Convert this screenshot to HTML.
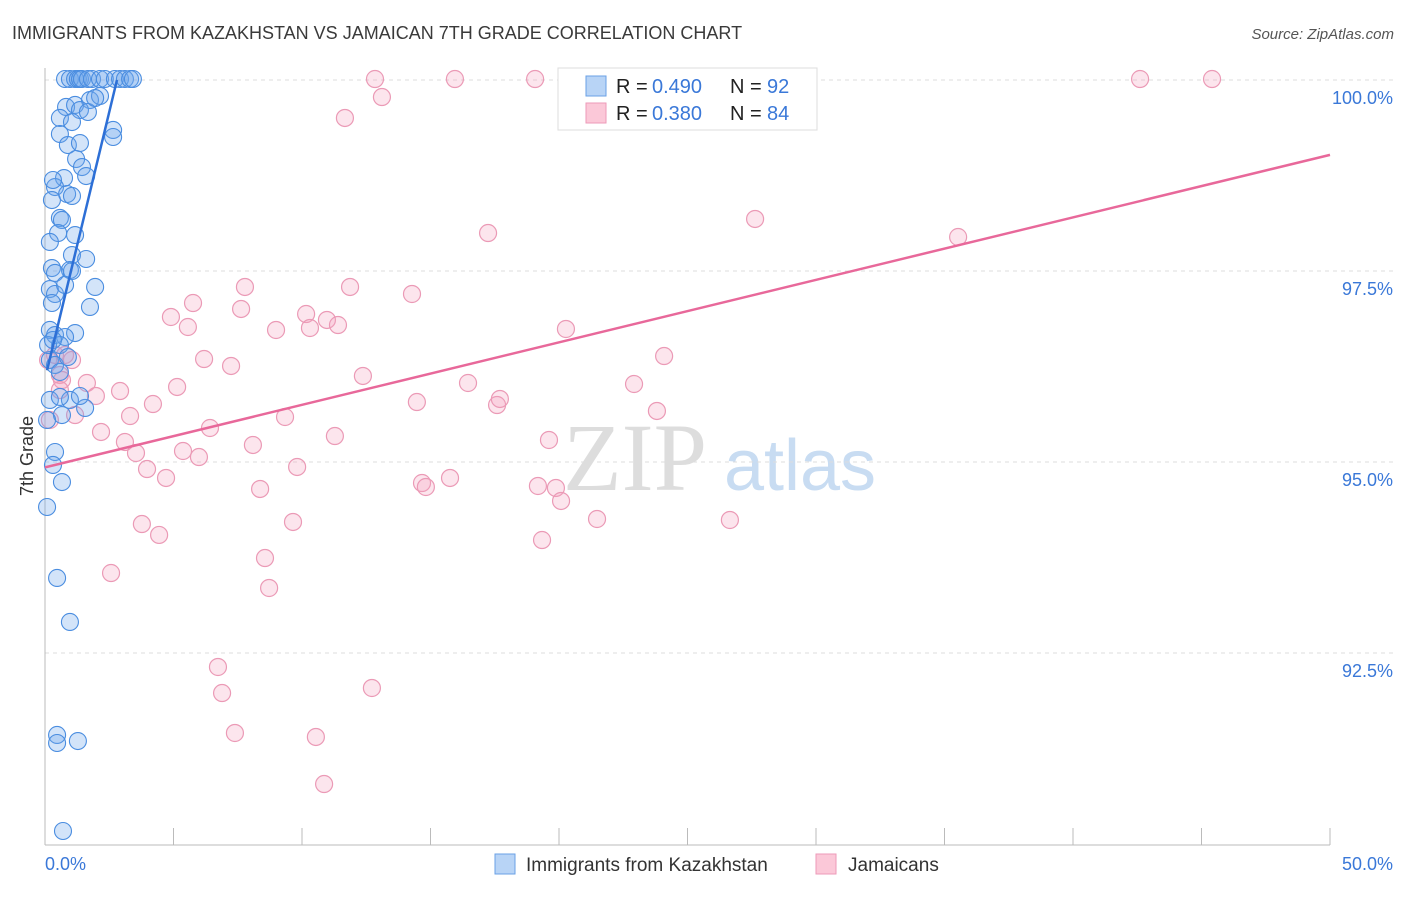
<!DOCTYPE html>
<html><head><meta charset="utf-8"><style>
body{margin:0;background:#fff;width:1406px;height:892px;overflow:hidden;font-family:"Liberation Sans",sans-serif}
</style></head><body>
<svg width="1406" height="892" xmlns="http://www.w3.org/2000/svg" font-family="Liberation Sans, sans-serif">
<text x="12" y="39" font-size="18" fill="#3a3a3a">IMMIGRANTS FROM KAZAKHSTAN VS JAMAICAN 7TH GRADE CORRELATION CHART</text>
<text x="1394" y="39" font-size="15" fill="#555" text-anchor="end" font-style="italic">Source: ZipAtlas.com</text>
<g>
<text x="635" y="490" font-size="96" fill="#ddd" text-anchor="middle" font-family="Liberation Serif, serif">ZIP</text>
<text x="800" y="490" font-size="72" fill="#c8dcf2" text-anchor="middle">atlas</text>
</g>
<g id="grid"></g>
<g id="axes"></g>
<g id="pts"></g>
<g id="lines"></g>
<text transform="translate(33,456) rotate(-90)" font-size="18" fill="#333" text-anchor="middle">7th Grade</text>
<g>
<rect x="558" y="68" width="259" height="62" fill="#fff" stroke="#ddd"/>
<rect x="586" y="76" width="20" height="20" fill="#b8d4f6" stroke="#6aa0e6"/>
<rect x="586" y="103" width="20" height="20" fill="#fbc8d8" stroke="#ee9ab8"/>
<text x="616" y="93" font-size="20" fill="#222">R =</text>
<text x="652" y="93" font-size="20" fill="#3a78d8">0.490</text>
<text x="730" y="93" font-size="20" fill="#222">N =</text>
<text x="767" y="93" font-size="20" fill="#3a78d8">92</text>
<text x="616" y="120" font-size="20" fill="#222">R =</text>
<text x="652" y="120" font-size="20" fill="#3a78d8">0.380</text>
<text x="730" y="120" font-size="20" fill="#222">N =</text>
<text x="767" y="120" font-size="20" fill="#3a78d8">84</text>
</g>
<g>
<rect x="495" y="854" width="20" height="20" fill="#b8d4f6" stroke="#6aa0e6"/>
<text x="526" y="871" font-size="19" fill="#333">Immigrants from Kazakhstan</text>
<rect x="816" y="854" width="20" height="20" fill="#fbc8d8" stroke="#ee9ab8"/>
<text x="848" y="871" font-size="19" fill="#333">Jamaicans</text>
</g>
</svg>
<script>
const NS="http://www.w3.org/2000/svg";
const yTicks=[100,97.5,95,92.5];
const yTickLabels=["100.0%","97.5%","95.0%","92.5%"];
const xTickLabels=["0.0%","50.0%"];
const bluePx=[[65,79],[70,79],[75,79],[78,79],[80,79],[82,79],[88,79],[92,79],[100,79],[105,79],[115,79],[120,79],[125,79],[130,79],[133,79],[66,107],[75,105],[90,100],[100,96],[80,110],[60,118],[72,122],[88,112],[113,130],[113,137],[60,134],[68,145],[80,143],[76,159],[82,167],[86,176],[64,178],[55,187],[67,194],[52,200],[60,218],[62,220],[58,233],[75,235],[50,242],[72,255],[86,259],[70,270],[52,268],[55,273],[72,271],[50,289],[55,294],[65,285],[95,287],[52,303],[90,307],[50,330],[55,335],[75,333],[65,337],[60,345],[50,360],[55,365],[60,372],[50,400],[70,400],[85,408],[62,415],[47,420],[55,452],[53,465],[62,482],[47,507],[57,578],[70,622],[57,735],[57,743],[78,741],[63,831],[60,397],[48,345],[53,340],[80,396],[68,357],[95,98],[53,180],[72,196]];
const pinkPx=[[375,79],[455,79],[535,79],[727,79],[1140,79],[1212,79],[382,97],[345,118],[488,233],[755,219],[958,237],[245,287],[350,287],[193,303],[412,294],[171,317],[241,309],[306,314],[276,330],[188,327],[327,320],[338,325],[310,328],[566,329],[204,359],[231,366],[363,376],[468,383],[634,384],[664,356],[177,387],[87,383],[120,391],[96,396],[153,404],[417,402],[497,405],[500,399],[130,416],[285,417],[657,411],[101,432],[125,442],[210,428],[335,436],[549,440],[136,453],[183,451],[199,457],[253,445],[147,469],[166,478],[297,467],[260,489],[422,483],[426,487],[450,478],[538,486],[556,488],[561,501],[142,524],[159,535],[293,522],[597,519],[730,520],[542,540],[265,558],[111,573],[269,588],[218,667],[222,693],[372,688],[235,733],[316,737],[324,784],[48,360],[55,355],[65,355],[72,360],[60,375],[75,415],[50,420],[62,380],[60,390]];
const blueX=bluePx.map(p=>+((p[0]-45)/25.7).toFixed(2));
const blueY=bluePx.map(p=>+(100-(p[1]-80)/76.4).toFixed(3));
const pinkX=pinkPx.map(p=>+((p[0]-45)/25.7).toFixed(2));
const pinkY=pinkPx.map(p=>+(100-(p[1]-80)/76.4).toFixed(3));
const blueTrend=[[0.08,96.2],[2.8,100]];
const pinkTrend=[[0,94.93],[50,99.02]];
const xs=v=>45+v*25.7, ys=v=>80+(100-v)*76.4;
function el(t,a,p){const e=document.createElementNS(NS,t);for(const k in a)e.setAttribute(k,a[k]);document.getElementById(p).appendChild(e);return e;}
yTicks.forEach((t,i)=>{
 const g=el('line',{x1:45,x2:1395,y1:ys(t),y2:ys(t),stroke:'#ddd','stroke-dasharray':'4,4'},'grid');
 
 
 const l=el('text',{x:1393,y:ys(t)+24,'font-size':18,fill:'#3a78d8','text-anchor':'end'},'axes');
 l.textContent=yTickLabels[i];
 
 
});
const ya=el('line',{x1:45,x2:45,y1:68,y2:845,stroke:'#bbb'},'axes');


const xa=el('line',{x1:45,x2:1330,y1:845,y2:845,stroke:'#bbb'},'axes');


for(let i=0;i<=10;i++){const tk=el('line',{x1:xs(i*5),x2:xs(i*5),y1:828,y2:845,stroke:'#bbb'},'axes');
 
 }
[[0,'start',45],[50,'end',1393]].forEach((d,i)=>{const t=el('text',{x:d[2],y:870,'font-size':18,fill:'#3a78d8','text-anchor':d[1]},'axes');t.textContent=xTickLabels[i];
 
 });
pinkX.forEach((x,i)=>{const c=el('circle',{cx:xs(x),cy:ys(pinkY[i]),r:8.5,fill:'rgba(245,160,190,0.28)',stroke:'#eb9ab6','stroke-width':1.2},'pts');
 
 });
blueX.forEach((x,i)=>{const c=el('circle',{cx:xs(x),cy:ys(blueY[i]),r:8.5,fill:'rgba(110,165,235,0.3)',stroke:'#4a8de0','stroke-width':1.1},'pts');
 
 });
const bl=el('line',{x1:xs(blueTrend[0][0]),y1:ys(blueTrend[0][1]),x2:xs(blueTrend[1][0]),y2:ys(blueTrend[1][1]),stroke:'#2d6fd6','stroke-width':2.5},'lines');


const pl=el('line',{x1:xs(pinkTrend[0][0]),y1:ys(pinkTrend[0][1]),x2:xs(pinkTrend[1][0]),y2:ys(pinkTrend[1][1]),stroke:'#e8689a','stroke-width':2.5},'lines');


</script>
</body></html>
